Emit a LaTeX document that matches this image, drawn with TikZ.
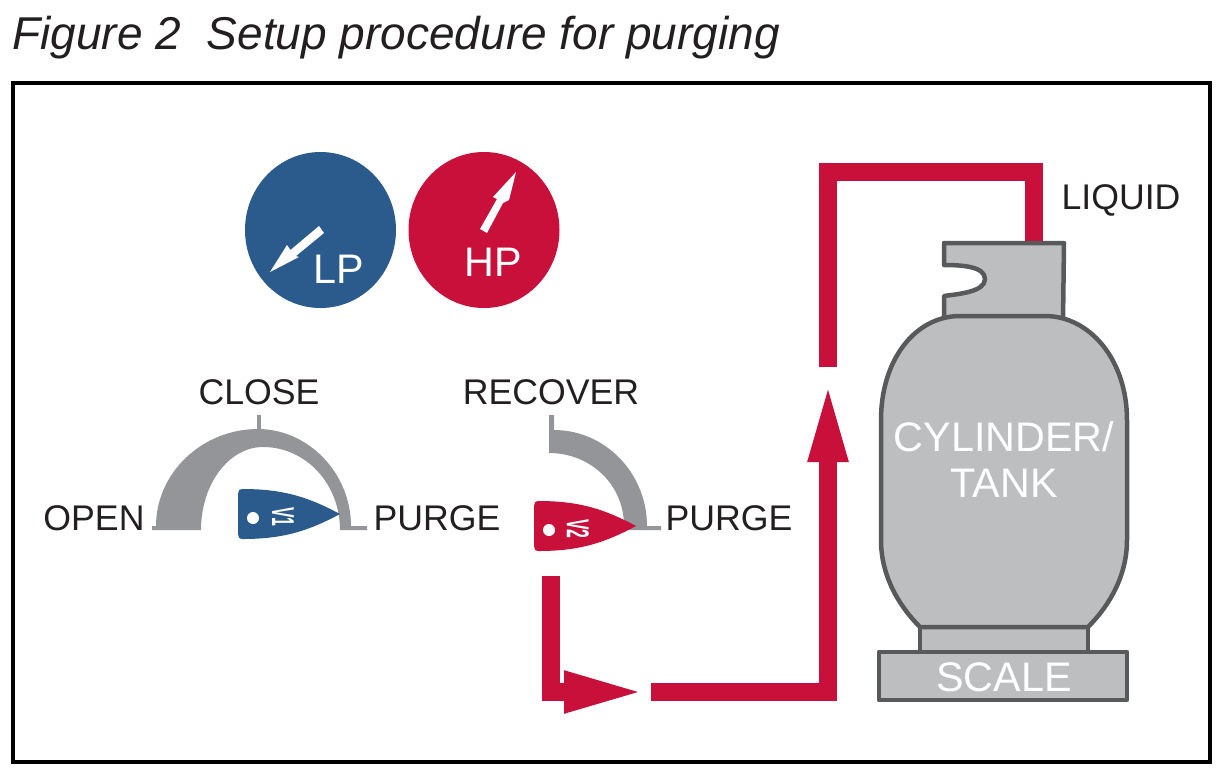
\documentclass[tikz,border=0pt]{standalone}
\usepackage{fontspec}
\setmainfont{Liberation Sans}
\usepackage{tikz}
\usetikzlibrary{arrows.meta}
\usetikzlibrary{shapes.geometric}

\definecolor{pipered}{HTML}{C8103A}
\definecolor{gaugeblue}{HTML}{2B5A8C}
\definecolor{dialgray}{HTML}{939598}
\definecolor{tankgray}{HTML}{BCBEC0}
\definecolor{tankline}{HTML}{58595B}
\definecolor{labelink}{HTML}{231F20}

\newcommand{\labelfont}{\fontsize{20.3}{21}\selectfont}
\newcommand{\whitefont}{\fontsize{23.5}{24}\selectfont}

\begin{document}
\begin{tikzpicture}
    [x=0.02cm, y=-0.02cm,
    every node/.style={inner sep=0pt, text=labelink},
    label/.style={font=\labelfont},
    whitelabel/.style={font=\whitefont, text=white},
    gauge/.style={ellipse, minimum width=151*0.02cm, minimum height=156*0.02cm},
    tag/.style={font=\fontsize{18}{18}\selectfont\bfseries, text=white, rotate=-90, xscale=0.5},
    pipe/.style={draw=pipered, line width=18*0.02cm, miter limit=10},
    tank/.style={fill=tankgray, draw=tankline, line width=4.5*0.02cm, line join=round}]

    \useasboundingbox (0,0) rectangle (1218,769);

    % Title and frame
    \node[anchor=base west, font=\fontsize{26.2}{26.2}\selectfont\itshape] (title) at (12,49)
        {Figure 2\ \ Setup procedure for purging};
    \draw[black, line width=4*0.02cm] (13,83) rectangle (1210,762);

    % Gauges
    \node[gauge, fill=gaugeblue] (lp) at (320.5,230) {};
    \node[gauge, fill=pipered] (hp) at (484,230) {};
    \node[whitelabel] (lptext) at (338.5,269) {LP};
    \node[whitelabel] (hptext) at (493,262) {HP};
    \fill[white] (319,226) -- (324,233) -- (296,256) -- (299,257) -- (270,272)
        -- (287,245) -- (290.5,250) -- cycle;
    \fill[white] (480,229) -- (487,233) -- (503,203) -- (509,200) -- (516,172)
        -- (493,197) -- (497,199) -- cycle;

    % Dial of V1
    \fill[dialgray] (257,415) rectangle (261,430);
    \fill[dialgray] (152,530) -- (152,526) -- (156,526)
        .. controls (156,473) and (202,429) .. (258,429)
        .. controls (308,429) and (351,473) .. (351,526)
        -- (367,526) -- (367,530) -- (340,530)
        .. controls (340,484) and (306,447) .. (263,447)
        .. controls (229,447) and (201,484) .. (201,530) -- cycle;

    % Dial of V2
    \fill[dialgray] (549,415) -- (554,415) -- (554,430)
        .. controls (605,430) and (647,473) .. (647,526)
        -- (661,526) -- (661,530) -- (630,530) -- (624,526)
        .. controls (624,484) and (590,453) .. (549,453) -- cycle;

    % Valve handles
    \foreach \dx/\dy/\col in {0/0/gaugeblue, 296/12/pipered} {
        \fill[\col, shift={(\dx*0.02cm,-\dy*0.02cm)}] (243,489)
            .. controls (285,489) and (310,498) .. (340,514)
            .. controls (310,530) and (285,539) .. (243,539)
            .. controls (239,539) and (238,537) .. (238,534)
            -- (238,494) .. controls (238,491) and (239,489) .. (243,489) -- cycle;
        \fill[white, shift={(\dx*0.02cm,-\dy*0.02cm)}] (253,518) circle [radius=6];
    }
    \node[tag] (vone) at (283,517) {V1};
    \node[tag] (vtwo) at (578,529) {V2};

    % Labels
    \node[label] (close) at (259,392) {CLOSE};
    \node[label] (open) at (94,518) {OPEN};
    \node[label] (purgeone) at (437,518) {PURGE};
    \node[label] (recover) at (551,392) {RECOVER};
    \node[label] (purgetwo) at (729,518) {PURGE};
    \node[label] (liquid) at (1121,200) {LIQUID};

    % Purge line
    \coordinate (vout) at (551,576);
    \coordinate (gapin) at (648,692);
    \coordinate (gapout) at (651,692);
    \coordinate (riserend) at (828,378);
    \coordinate (riserstart) at (828,367);
    \coordinate (corner) at (1034,172);
    \coordinate (tankport) at (1034,250);
    \draw[pipe, -{Triangle[length=84*0.02cm, width=37*0.02cm]}] (vout) |- (gapin);
    \draw[pipe, -{Triangle[length=84*0.02cm, width=35*0.02cm]}] (gapout) -| (riserend);
    \draw[pipe] (riserstart) |- (corner) -- (tankport);

    % Cylinder
    \draw[tank] (944,243) -- (1064,243) -- (1063,322) -- (944,322) -- (944,296)
        .. controls (958,294) and (985,292) .. (985,279)
        .. controls (985,266) and (960,265) .. (944,265) -- cycle;
    \draw[tank] (920,627) rectangle (1088,652);
    \draw[tank] (960,316) -- (1045,316)
        .. controls (1090,316) and (1127,360) .. (1127,420)
        -- (1127,540) .. controls (1127,575) and (1110,605) .. (1088,627)
        -- (920,627) .. controls (898,605) and (881,575) .. (881,540)
        -- (881,420) .. controls (881,360) and (915,316) .. (960,316) -- cycle;
    \draw[tank] (879,652) rectangle (1127,700);
    \node[whitelabel] (cylinder) at (1004,437) {CYLINDER/};
    \node[whitelabel] (tanktext) at (1004,483) {TANK};
    \node[whitelabel] (scale) at (1004,677) {SCALE};

  \end{tikzpicture}
\end{document}
